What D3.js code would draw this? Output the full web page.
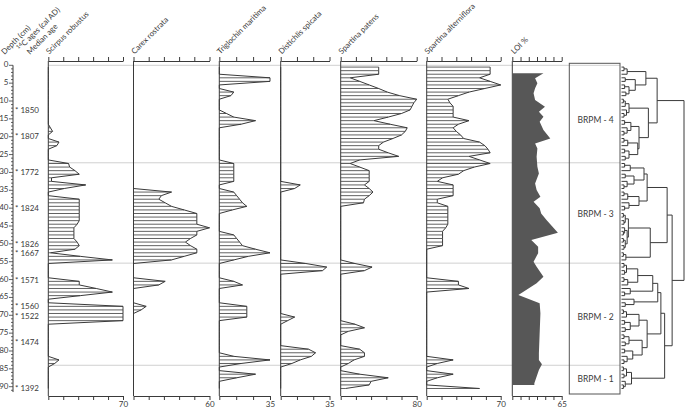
<!DOCTYPE html>
<html><head><meta charset="utf-8">
<script src="https://cdn.jsdelivr.net/npm/d3@7"></script>
<style>body{margin:0;background:#fff}svg{display:block}text{font-family:Lato,"Open Sans",sans-serif;fill:#3a3a3a}</style>
</head><body><svg id="c" width="685" height="410"></svg>
<script>
// ---------- DATA ----------
const sampleDepth = [0.5,1.5,2.5,3.5,4.5,5.5,6.5,7.5,8.5,9.5,10.5,11.5,12.5,13.5,14.5,15.5,16.5,17.5,18.5,19.5,
 20.5,21.5,22.5,23.5,24.5,25.5,26.5,27.5,28.5,29.5,30.5,31.5,32.5,33.5,34.5,35.5,36.5,37.5,38.5,39.5,
 40.5,41.5,42.5,43.5,44.5,45.5,46.5,47.5,48.5,49.5,50.5,51.5,52.5,53.5,54.5,55.5,56.5,57.5,58.5,59.5,
 60.5,61.5,62.5,63.5,64.5,65.5,66.5,67.5,68.5,69.5,70.5,71.5,72.5,73.5,74.5,75.5,76.5,77.5,78.5,79.5,
 80.5,81.5,82.5,83.5,84.5,85.5,86.5,87.5,88.5,89.5,90.5];

const scirpus = [0,0,0,0,0,0,0,0,0,0, 0,0,0,0,0,0,0,2,4,0, 0,10,8,0,0,0,0,19,20,25,
 29,3,3,35,15,0,0,29,29,29, 29,29,29,29,27,24,24,24,24,27, 29,25,2,30,60,0,0,0,0,0,
 29,29,45,60,30,0,0,70,70,70, 70,70,0,0,0,0,0,0,0,0, 0,0,10,6,0,0,0,0,0,0, 0];
const carex = [0,0,0,0,0,0,0,0,0,0, 0,0,0,0,0,0,0,0,0,0, 0,0,0,0,0,0,0,0,0,0,
 0,0,0,0,0,30,22,20,25,30, 40,50,50,50,50,60,50,50,45,41, 45,50,50,40,30,0,0,0,0,0,
 25,20,0,0,0,0,0,10,6,0, 0,0,0,0,0,0,0,0,0,0, 0,0,0,0,0,0,0,0,0,0, 0];
const triglochin = [0,0,0,35,35,0,0,10,8,0, 0,0,0,5,10,25,15,0,0,0, 0,0,0,0,0,0,0,10,10,10,
 10,10,10,0,0,10,12,14,16,19, 9,0,0,0,0,0,0,10,12,14, 16,25,35,20,10,0,0,0,0,0,
 10,16,0,0,0,0,0,19,19,19, 19,0,0,0,0,0,0,0,0,0, 0,10,35,15,0,0,25,12,0,0, 0];
const distichlis = [0,0,0,0,0,0,0,0,0,0, 0,0,0,0,0,0,0,0,0,0, 0,0,0,0,0,0,0,0,0,0,
 0,0,0,14,10,0,0,0,0,0, 0,0,0,0,0,0,0,0,0,0, 0,0,0,0,0,18,33,30,0,0,
 0,0,0,0,0,0,0,0,0,0, 10,5,0,0,0,0,0,0,0,20, 25,22,14,8,0,0,0,0,0,0, 0];
const spPatens = [40,40,40,10,20,30,40,49,62,80, 77,75,73,64,50,35,52,70,68,64, 55,45,40,40,50,61,20,10,20,30,
 30,30,30,25,30,34,30,25,24,0, 0,0,0,0,0,0,0,0,0,0, 0,0,0,0,0,15,33,25,0,0,
 0,0,0,0,0,0,0,0,0,0, 0,0,15,25,8,0,0,0,0,20, 25,25,14,8,0,0,20,50,32,30, 5];
const spAlterniflora = [60,60,60,50,60,70,55,40,30,20, 22,25,25,25,25,40,30,25,28,32, 35,50,55,58,60,40,50,60,45,35,
 30,15,10,25,25,25,25,10,10,20, 20,20,20,20,20,18,15,15,15,15, 15,0,0,0,0,0,0,0,0,0,
 30,30,40,0,0,0,0,0,0,0, 0,0,0,0,0,0,0,0,0,0, 0,0,25,10,0,0,25,10,0,0, 50];

const loiDepth = [2.2,3.6,5,6.4,7.8,9.7,11.6,13,14.4,15.8,18.1,20.5,21.9,23.3,25.6,28.4,30.3,33.1,34.9,36.8,
 38.2,40,41.5,43.3,46.9,48.9,50.8,52.6,55,56.4,59.2,61,64.3,66.6,69.4,75,80.6,82.5,83.7,85.3,89,89.5];
const loiValue = [41,30,33,30,28,30,43,35,41,36,41,50,30,33,32,33,35,30,32,37,
 28,36,38,45,60,25,34,34,28,32,41,32,8,36,37,36,35,35,39,35,29,29];

const taxa = ["Scirpus robustus","Carex rostrata","Triglochin maritima","Distichlis spicata","Spartina patens","Spartina alterniflora"];
const taxaMax = [70,60,35,35,80,70];
const taxaTickCount = [5,5,3,3,5,5];
const loiMax = 65;

const depthTicks = [0,5,10,15,20,25,30,35,40,45,50,55,60,65,70,75,80,85,90];
const ageLabels = ["1850","1807","1772","1824","1826","1667","1571","1560","1522","1474","1392"];
const ageDepths = [12.8,20.2,30.2,40.3,50.2,52.8,60.3,67.8,70.4,77.8,90.5];

const zoneNames = ["BRPM - 4","BRPM - 3","BRPM - 2","BRPM - 1"];
const zoneBounds = [0,27.3,55.4,84,91.5];

// CONISS dendrogram: [height, left, right]; leaves = sample index
const dendro = [100,
 [57,
  [39, [9,[4,0,1],2], [22,[6,3,4],[12,[5,5,6],[7,7,8]]]],
  [43, [12,[6,[3,9,10],11],[8,12,[4,13,14]]],
       [28,[15,[5,15,16],[9,17,[4,18,19]]],[26,[10,[4,20,21],22],[12,[5,23,24],[6,25,26]]]]]],
 [81,
  [73,
   [41, [36,[14,[5,27,28],29],[20,[6,30,31],[9,32,[4,33,34]]]],
        [28,[10,[4,35,36],37],[12,38,[5,39,40]]]],
   [46, [11,[6,[3,41,42],[4,43,44]],[9,[5,45,[3,46,47]],[6,[3,48,49],[4,50,51]]]],
        [7,[3,52,53],54]]],
  [69,
   [63,
    [58, [50,[26,[8,[4,55,56],[5,57,58]],[10,[4,59,60],61]],[14,62,[5,63,64]]],
         [20,65,[6,66,67]]],
    [41, [28,[8,[3,68,69],70],[14,[5,71,72],[6,73,74]]],
         [33,[12,[4,75,76],[6,77,78]],[18,[5,79,80],[9,81,[4,82,83]]]]]],
   [16,[8,[3,84,85],[4,86,87]],[6,88,[3,89,90]]]]]];

// ---------- LAYOUT ----------
const svg = d3.select("#c");
const ink = "#3a3a3a";
const y = d3.scaleLinear().domain([0,90]).range([65.3,386.7]);
const topY = 61, botY = 396;
const panelX = [[48.3,123],[133.5,209.5],[219.3,270],[280.7,329.5],[340.7,416.7],[426.7,500.7]];
const loiX = [512.3,561.7];
const zoneX = [569.3,620];
const treeX = d3.scaleLinear().domain([0,100]).range([621.5,684]);
const hdrSize = 7.8;

svg.append("g").selectAll("line").data(zoneBounds.slice(0,4)).join("line")
  .attr("x1",48.3).attr("x2",zoneX[1]).attr("y1",d=>y(d)).attr("y2",d=>y(d))
  .attr("stroke","#d0d0d0").attr("stroke-width",1);

function drawAxes(x0,x1,max,n,g){
  const xs = d3.scaleLinear().domain([0,max]).range([x0,x1]);
  const tv = d3.range(n+1).map(k=>max*k/n);
  g.append("g").attr("transform",`translate(0,${topY})`)
   .call(d3.axisTop(xs).tickValues(tv).tickSize(4).tickSizeOuter(0).tickFormat(""));
  g.append("g").attr("transform",`translate(0,${botY})`)
   .call(d3.axisBottom(xs).tickValues(tv).tickSize(4).tickSizeOuter(0).tickFormat(d=>d===max?d:""));
  g.selectAll(".domain").attr("stroke",ink);
  g.selectAll(".tick line").attr("stroke",ink);
  g.selectAll(".tick text").attr("font-size",8).attr("font-family","Lato").attr("fill","#505050").attr("dy","0.5em");
  g.append("line").attr("x1",x0).attr("x2",x0).attr("y1",topY).attr("y2",botY).attr("stroke",ink);
  return xs;
}

const series = [scirpus,carex,triglochin,distichlis,spPatens,spAlterniflora];
series.forEach((vals,k)=>{
  const g = svg.append("g");
  const [x0,x1] = panelX[k];
  const xs = drawAxes(x0,x1,taxaMax[k],taxaTickCount[k],g);
  g.append("g").selectAll("line").data(vals.map((v,i)=>({v,d:sampleDepth[i]})).filter(p=>p.v>0)).join("line")
    .attr("x1",x0).attr("x2",p=>xs(p.v)).attr("y1",p=>y(p.d)).attr("y2",p=>y(p.d))
    .attr("stroke",ink).attr("stroke-width",0.8);
  g.append("path").datum(vals.map((v,i)=>[xs(v),y(sampleDepth[i])]))
    .attr("d",d3.line()).attr("fill","none").attr("stroke",ink).attr("stroke-width",1);
  g.append("text").attr("transform",`translate(${x0+1},54.5) rotate(-45)`)
    .attr("font-size",hdrSize).text(taxa[k]);
});

// LOI
{
  const g = svg.append("g");
  const xs = drawAxes(loiX[0],loiX[1],loiMax,6,g);
  const pts = [[xs(0),y(loiDepth[0])]].concat(loiValue.map((v,i)=>[xs(v),y(loiDepth[i])]))
    .concat([[xs(0),y(loiDepth[loiDepth.length-1])]]);
  g.append("path").attr("d",d3.line()(pts)+"Z").attr("fill","#575757").attr("stroke","none");
  g.append("text").attr("transform",`translate(${loiX[0]+2},54.5) rotate(-45)`).attr("font-size",hdrSize).text("LOI %");
}

// zones
{
  const g = svg.append("g");
  g.append("rect").attr("x",zoneX[0]).attr("y",63.3).attr("width",zoneX[1]-zoneX[0]).attr("height",394-63.3)
    .attr("fill","none").attr("stroke","#555").attr("stroke-width",1);
  g.selectAll("text").data(zoneNames).join("text")
    .attr("x",(zoneX[0]+zoneX[1])/2+1)
    .attr("y",(d,i)=> i===0 ? y(15.5) : i===1 ? y(42) : i===2 ? y(70.6) : y(88.2))
    .attr("text-anchor","middle").attr("dominant-baseline","middle").attr("font-size",8.5).text(d=>d);
}

// depth axis
{
  const g = svg.append("g");
  const ax = 13;
  g.append("line").attr("x1",ax).attr("x2",ax).attr("y1",y(0)).attr("y2",y(91.5)).attr("stroke",ink);
  g.selectAll("line.mn").data(d3.range(0,92)).join("line").attr("class","mn")
    .attr("x1",ax).attr("x2",d=>d%5===0?ax-4:ax-2).attr("y1",d=>y(d)).attr("y2",d=>y(d)).attr("stroke",ink).attr("stroke-width",0.8);
  g.selectAll("text.dl").data(depthTicks).join("text").attr("class","dl")
    .attr("x",ax-4.5).attr("y",d=>y(d)).attr("text-anchor","end").attr("dominant-baseline","middle")
    .attr("font-size",8).text(d=>d);
  g.selectAll("text.age").data(ageLabels).join("text").attr("class","age")
    .attr("x",15).attr("y",(d,i)=>y(ageDepths[i])).attr("dominant-baseline","middle")
    .attr("font-size",8).text(d=>"* "+d);
  g.append("text").attr("transform","translate(4.5,55) rotate(-45)").attr("font-size",hdrSize).text("Depth (cm)");
  const t = g.append("text").attr("transform","translate(20,51) rotate(-45)").attr("font-size",hdrSize);
  t.append("tspan").attr("font-size",5.5).attr("dy",-2.5).text("14");
  t.append("tspan").attr("dy",2.5).text("C ages (cal AD)");
  g.append("text").attr("transform","translate(30,55) rotate(-45)").attr("font-size",hdrSize).text("Median age");
}

// dendrogram
{
  const g = svg.append("g").attr("stroke",ink).attr("stroke-width",1).attr("fill","none");
  const root = d3.hierarchy(dendro, d => Array.isArray(d) ? d.slice(1) : null);
  root.eachAfter(n=>{
    if(!n.children){ n.py = y(sampleDepth[n.data]); n.h = 0; }
    else { n.py = (n.children[0].py + n.children[1].py)/2; n.h = n.data[0]; }
  });
  root.descendants().forEach(n=>{
    if(n.parent){
      g.append("line").attr("x1",treeX(n.h)).attr("x2",treeX(n.parent.h)).attr("y1",n.py).attr("y2",n.py);
    }
    if(n.children){
      g.append("line").attr("x1",treeX(n.h)).attr("x2",treeX(n.h))
        .attr("y1",n.children[0].py).attr("y2",n.children[1].py);
    }
  });
}
</script></body></html>
